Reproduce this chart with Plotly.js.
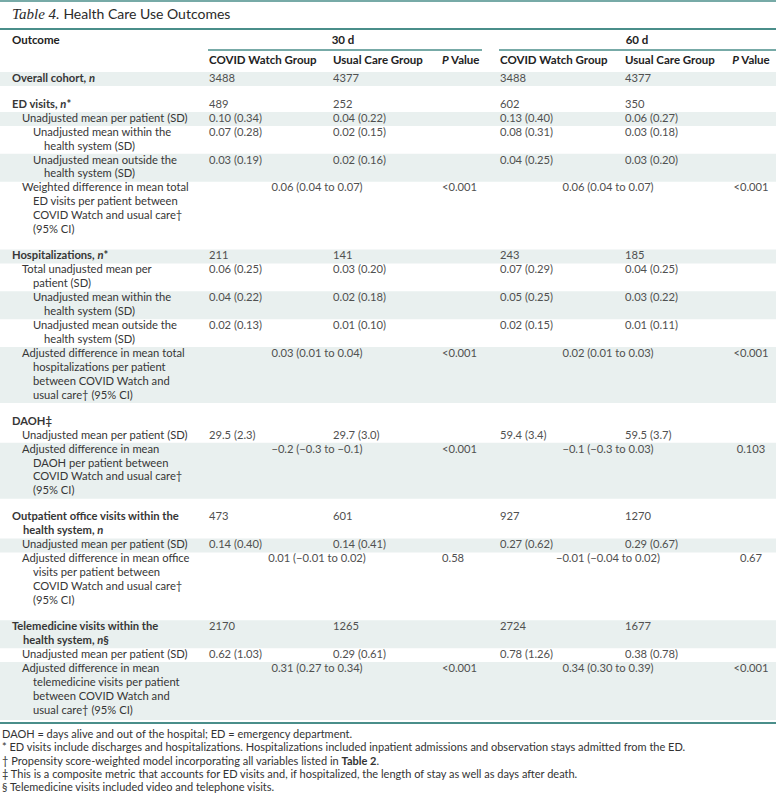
<!DOCTYPE html>
<html>
<head>
<meta charset="utf-8">
<script src="https://cdn.plot.ly/plotly-3.0.1.min.js"></script>
<style>html,body{margin:0;padding:0;background:#fff;}#chart{width:776px;height:799px;}</style>
</head>
<body>
<div id="chart"></div>
<script>
// ---------- DATA ----------
const tableTitle = "Health Care Use Outcomes";
const tableNumber = "Table 4.";
const periodLabels = ["30 d", "60 d"];
const columnLabels = ["COVID Watch Group", "Usual Care Group", "<i>P</i> Value"];
const outcomeHeader = "Outcome";

const rowLabel = [
  ["<b>Overall cohort, <i>n</i></b>"],
  ["<b>ED visits, <i>n</i>*</b>"],
  ["Unadjusted mean per patient (SD)"],
  ["Unadjusted mean within the", "health system (SD)"],
  ["Unadjusted mean outside the", "health system (SD)"],
  ["Weighted difference in mean total", "ED visits per patient between", "COVID Watch and usual care†", "(95% CI)"],
  ["<b>Hospitalizations, <i>n</i>*</b>"],
  ["Total unadjusted mean per", "patient (SD)"],
  ["Unadjusted mean within the", "health system (SD)"],
  ["Unadjusted mean outside the", "health system (SD)"],
  ["Adjusted difference in mean total", "hospitalizations per patient", "between COVID Watch and", "usual care† (95% CI)"],
  ["<b>DAOH‡</b>"],
  ["Unadjusted mean per patient (SD)"],
  ["Adjusted difference in mean", "DAOH per patient between", "COVID Watch and usual care†", "(95% CI)"],
  ["<b>Outpatient office visits within the</b>", "<b>health system, <i>n</i></b>"],
  ["Unadjusted mean per patient (SD)"],
  ["Adjusted difference in mean office", "visits per patient between", "COVID Watch and usual care†", "(95% CI)"],
  ["<b>Telemedicine visits within the</b>", "<b>health system, <i>n</i>§</b>"],
  ["Unadjusted mean per patient (SD)"],
  ["Adjusted difference in mean", "telemedicine visits per patient", "between COVID Watch and", "usual care† (95% CI)"]
];

const covid30 = ["3488","489","0.10 (0.34)","0.07 (0.28)","0.03 (0.19)","","211","0.06 (0.25)","0.04 (0.22)","0.02 (0.13)","","","29.5 (2.3)","","473","0.14 (0.40)","","2170","0.62 (1.03)",""];
const usual30 = ["4377","252","0.04 (0.22)","0.02 (0.15)","0.02 (0.16)","","141","0.03 (0.20)","0.02 (0.18)","0.01 (0.10)","","","29.7 (3.0)","","601","0.14 (0.41)","","1265","0.29 (0.61)",""];
const diff30 = ["","","","","","0.06 (0.04 to 0.07)","","","","","0.03 (0.01 to 0.04)","","","−0.2 (−0.3 to −0.1)","","","0.01 (−0.01 to 0.02)","","","0.31 (0.27 to 0.34)"];
const pval30 = ["","","","","","&lt;0.001","","","","","&lt;0.001","","","&lt;0.001","","","0.58","","","&lt;0.001"];

const covid60 = ["3488","602","0.13 (0.40)","0.08 (0.31)","0.04 (0.25)","","243","0.07 (0.29)","0.05 (0.25)","0.02 (0.15)","","","59.4 (3.4)","","927","0.27 (0.62)","","2724","0.78 (1.26)",""];
const usual60 = ["4377","350","0.06 (0.27)","0.03 (0.18)","0.03 (0.20)","","185","0.04 (0.25)","0.03 (0.22)","0.01 (0.11)","","","59.5 (3.7)","","1270","0.29 (0.67)","","1677","0.38 (0.78)",""];
const diff60 = ["","","","","","0.06 (0.04 to 0.07)","","","","","0.02 (0.01 to 0.03)","","","−0.1 (−0.3 to 0.03)","","","−0.01 (−0.04 to 0.02)","","","0.34 (0.30 to 0.39)"];
const pval60 = ["","","","","","&lt;0.001","","","","","&lt;0.001","","","0.103","","","0.67","","","&lt;0.001"];

const footnotes = [
  "DAOH = days alive and out of the hospital; ED = emergency department.",
  "* ED visits include discharges and hospitalizations. Hospitalizations included inpatient admissions and observation stays admitted from the ED.",
  "† Propensity score-weighted model incorporating all variables listed in <b>Table 2</b>.",
  "‡ This is a composite metric that accounts for ED visits and, if hospitalized, the length of stay as well as days after death.",
  "§ Telemedicine visits included video and telephone visits."
];

// ---------- STYLE / LAYOUT STRUCTURE ----------
const rowLevel  = [0,0,1,2,2,1,0,1,2,2,1,0,1,1,0,1,1,0,1,1];
const gapBefore = [0,1,0,0,0,0,1,0,0,0,0,1,0,0,1,0,0,1,0,0];
const rowShade  = [1,0,1,0,1,0,1,0,1,0,1,0,0,1,0,1,0,1,0,1];

const W = 776, H = 799;
const TEAL = "#4a8e8a", SHADE = "#e9f0ef";
const FONT = "Lato, 'Open Sans', sans-serif";
const LINE = 13.95, GAP = 12, FIRST_Y = 79;
const indentBase = [12, 22, 33], hang = 11;
const colX = {c30: 209, u30: 333, p30: 442, d30: 317, c60: 500, u60: 625, p60: 751, d60: 608};

// compute line y positions
const rowFirstY = [], rowLastY = [];
let y = FIRST_Y;
rowLabel.forEach((lines, i) => {
  if (i > 0) y += LINE + (gapBefore[i] ? GAP : 0);
  rowFirstY.push(y);
  y += LINE * (lines.length - 1);
  rowLastY.push(y);
});

const traces = [];
function textTrace(xs, ys, ts, opt) {
  traces.push(Object.assign({
    type: "scatter", mode: "text", x: xs, y: ys, text: ts,
    textposition: "middle right", hoverinfo: "skip", showlegend: false,
    cliponaxis: false,
    textfont: {family: FONT, size: 11, color: "#4a4a4a"}
  }, opt));
}

// labels
const lx = [], ly = [], lt = [];
rowLabel.forEach((lines, i) => {
  lines.forEach((t, k) => {
    lx.push(indentBase[rowLevel[i]] + (k > 0 ? hang : 0));
    ly.push(rowFirstY[i] + k * LINE);
    lt.push(t);
  });
});
textTrace(lx, ly, lt, {textfont: {family: FONT, size: 11.2, color: "#363636"}});

// values
function valCol(arr, xpos, pos) {
  const xs = [], ys = [], ts = [];
  arr.forEach((v, i) => { if (v !== "") { xs.push(xpos); ys.push(rowFirstY[i]); ts.push(v); } });
  textTrace(xs, ys, ts, {textposition: pos || "middle right", textfont: {family: FONT, size: 11.2, color: "#505050"}});
}
valCol(covid30, colX.c30);
valCol(usual30, colX.u30);
valCol(pval30, colX.p30);
valCol(diff30, colX.d30, "middle center");
valCol(covid60, colX.c60);
valCol(usual60, colX.u60);
valCol(pval60, colX.p60, "middle center");
valCol(diff60, colX.d60, "middle center");

// headers
const HDR = {family: FONT, size: 11.5, color: "#222222"};
textTrace([12], [41], ["<b>" + outcomeHeader + "</b>"], {textfont: HDR});
textTrace([343, 637], [41, 41], periodLabels.map(s => "<b>" + s + "</b>"), {textposition: "middle center", textfont: HDR});
textTrace([colX.c30, colX.u30, colX.p30, colX.c60, colX.u60],
          [61, 61, 61, 61, 61],
          [columnLabels[0], columnLabels[1], columnLabels[2], columnLabels[0], columnLabels[1]].map(s => "<b>" + s + "</b>"),
          {textfont: HDR});
textTrace([colX.p60], [61], ["<b>" + columnLabels[2] + "</b>"], {textposition: "middle center", textfont: HDR});

// title
textTrace([12], [15], ["<span style=\"font-family:'Liberation Serif',serif;font-size:15px\"><i>" + tableNumber + "</i></span> " + tableTitle],
          {textfont: {family: FONT, size: 14, color: "#2a2a2a"}});

// footnotes
const fy0 = 735, fstep = 13.4;
textTrace(footnotes.map(() => 2), footnotes.map((_, i) => fy0 + i * fstep), footnotes,
          {textfont: {family: FONT, size: 11, color: "#333333"}});

// ---------- SHAPES ----------
const shapes = [];
rowShade.forEach((s, i) => {
  if (!s) return;
  const bottom = (i === rowLabel.length - 1) ? 720 : rowLastY[i] + 7;
  shapes.push({type: "rect", xref: "x", yref: "y", x0: 0, x1: W, y0: rowFirstY[i] - 7, y1: bottom,
               fillcolor: SHADE, line: {width: 0}, layer: "below"});
});
function hline(yv, x0, x1, w) {
  shapes.push({type: "line", xref: "x", yref: "y", x0: x0, x1: x1, y0: yv, y1: yv, line: {color: TEAL, width: w}});
}
hline(1, 0, W, 1.6);
hline(29, 0, W, 2);
hline(50, 208, 482, 1.3);
hline(50, 499, W, 1.3);
hline(723, 0, W, 2);

const layout = {
  width: W, height: H,
  margin: {l: 0, r: 0, t: 0, b: 0},
  paper_bgcolor: "#ffffff", plot_bgcolor: "#ffffff",
  xaxis: {range: [0, W], visible: false, fixedrange: true},
  yaxis: {range: [H, 0], visible: false, fixedrange: true},
  shapes: shapes,
  showlegend: false
};
Plotly.newPlot("chart", traces, layout, {displayModeBar: false, staticPlot: true});
</script>
</body>
</html>
